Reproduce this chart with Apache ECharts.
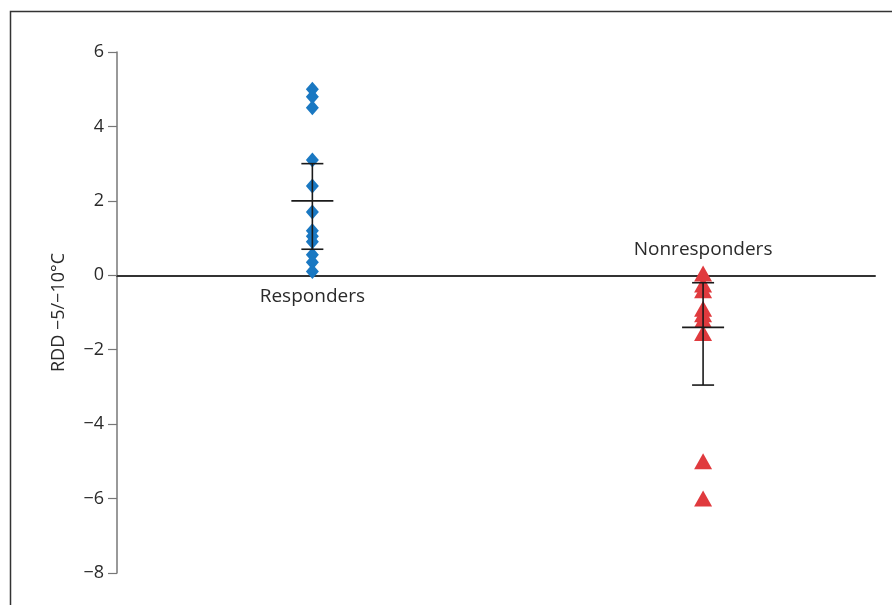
<!DOCTYPE html>
<html><head><meta charset="utf-8">
<script src="https://cdn.jsdelivr.net/npm/echarts@6/dist/echarts.min.js"></script>
<style>html,body{margin:0;padding:0;background:#fff}#c{width:892px;height:605px}</style>
</head><body><div id="c"></div>
<script>
const groups = ['Responders', 'Nonresponders'];
const groupX = [1, 2];
const responders = [5.0, 4.8, 4.5, 3.1, 2.4, 1.7, 1.2, 1.05, 0.9, 0.55, 0.35, 0.1];
const nonresponders = [0.05, -0.25, -0.4, -0.9, -1.05, -1.2, -1.55, -5.0, -6.0];
const errMean = [2.0, -1.4];
const errLow = [0.7, -2.95];
const errHigh = [3.0, -0.2];
const yTicks = [-8, -6, -4, -2, 0, 2, 4, 6];

const chart = echarts.init(document.getElementById('c'));
const font = 'Open Sans';
chart.setOption({
  animation: false,
  textStyle: {fontFamily: font},
  graphic: [{
    type: 'polyline', silent: true,
    shape: {points: [[10.5, 605], [10.5, 11.5], [892, 11.5]]},
    style: {stroke: '#333', lineWidth: 1.5, fill: null}
  }],
  grid: {left: 117, right: 17, top: 52, bottom: 32},
  xAxis: {
    type: 'value', min: 0.5, max: 2.44,
    axisLine: {onZero: true, lineStyle: {color: '#333', width: 2}},
    axisTick: {show: false}, axisLabel: {show: false}, splitLine: {show: false}
  },
  yAxis: {
    type: 'value', min: yTicks[0], max: yTicks[yTicks.length - 1], interval: 2,
    name: 'RDD \u22125/\u221210°C', nameLocation: 'middle', nameGap: 49,
    nameTextStyle: {fontSize: 18, color: '#2a2a2a', fontFamily: font},
    axisLine: {show: true, onZero: false, lineStyle: {color: '#777', width: 1.5}},
    axisTick: {show: true, length: 9, lineStyle: {color: '#777', width: 1.2}},
    axisLabel: {fontSize: 18, color: '#2a2a2a', margin: 13, fontFamily: font,
      formatter: v => (v < 0 ? '\u2212' + Math.abs(v) : String(v))},
    splitLine: {show: false}
  },
  series: [
    {
      type: 'scatter', symbol: 'diamond', symbolSize: [13, 15],
      itemStyle: {color: '#1a78c2', opacity: 1},
      data: responders.map(v => [groupX[0], v]), z: 3,
      markPoint: {
        symbol: 'circle', symbolSize: 0,
        data: [{coord: [groupX[0], 0], value: groups[0]}],
        label: {show: true, position: 'bottom', distance: 12, formatter: groups[0],
          fontSize: 19, color: '#2a2a2a', fontFamily: font}
      }
    },
    {
      type: 'scatter', symbol: 'triangle', symbolSize: [18, 16],
      itemStyle: {color: '#e03a3e', opacity: 1},
      data: nonresponders.map(v => [groupX[1], v]), z: 3,
      markPoint: {
        symbol: 'circle', symbolSize: 0,
        data: [{coord: [groupX[1], 0], value: groups[1]}],
        label: {show: true, position: 'top', distance: 16, formatter: groups[1],
          fontSize: 19, color: '#2a2a2a', fontFamily: font}
      }
    },
    {
      type: 'custom', z: 5,
      data: groupX.map((x, i) => [x, errLow[i], errHigh[i], errMean[i]]),
      renderItem: function (params, api) {
        const x = api.value(0);
        const lo = api.coord([x, api.value(1)]);
        const hi = api.coord([x, api.value(2)]);
        const mid = api.coord([x, api.value(3)]);
        const cap = 11, mw = 21;
        const st = {stroke: '#1a1a1a', lineWidth: 1.6};
        return {type: 'group', children: [
          {type: 'line', shape: {x1: lo[0], y1: lo[1], x2: hi[0], y2: hi[1]}, style: st},
          {type: 'line', shape: {x1: lo[0] - cap, y1: lo[1], x2: lo[0] + cap, y2: lo[1]}, style: st},
          {type: 'line', shape: {x1: hi[0] - cap, y1: hi[1], x2: hi[0] + cap, y2: hi[1]}, style: st},
          {type: 'line', shape: {x1: mid[0] - mw, y1: mid[1], x2: mid[0] + mw, y2: mid[1]}, style: st}
        ]};
      }
    }
  ]
});
</script></body></html>
